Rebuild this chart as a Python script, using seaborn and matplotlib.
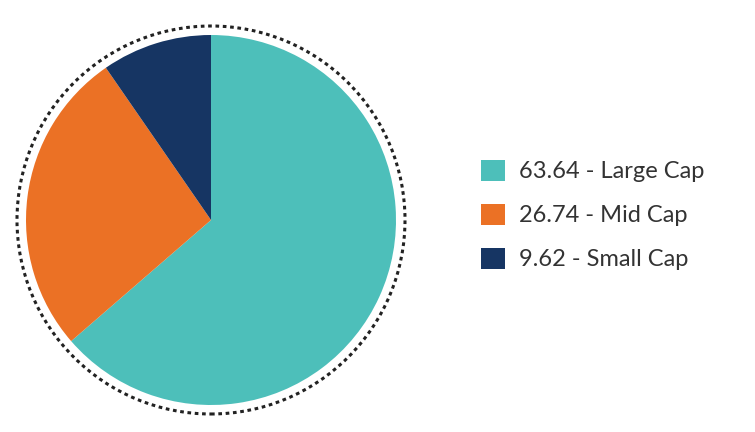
import matplotlib
matplotlib.use("Agg")
import matplotlib.pyplot as plt
import seaborn as sns
from matplotlib.patches import Circle

sns.set_theme(style="white")
plt.rcParams['font.family'] = ['Lato', 'DejaVu Sans']

labels = ["Large Cap", "Mid Cap", "Small Cap"]
values = [63.64, 26.74, 9.62]
colors = ["#4DBFBA", "#EB7125", "#163563"]

fig = plt.figure(figsize=(7.55, 4.32), dpi=100)
# axes in pixel units, centered on the pie
ax = fig.add_axes([(211 - 216) / 755, (432 - 220 - 216) / 432, 432 / 755, 432 / 432])
ax.set_xlim(-216, 216)
ax.set_ylim(-216, 216)
ax.set_aspect("equal")
ax.axis("off")

wedges, _ = ax.pie(values, colors=colors, startangle=90, counterclock=False,
                   radius=185, center=(0, 0), frame=True,
                   wedgeprops=dict(linewidth=0))
ax.set_xlim(-216, 216)
ax.set_ylim(-216, 216)
ax.axis("off")
ax.add_patch(Circle((0, 0), 194, fill=False, edgecolor="#222222",
                    linewidth=2.2, linestyle=(0, (1.2, 1.2))))

leg_labels = [f"{v:.2f} - {l}" for v, l in zip(values, labels)]
fig.legend(wedges, leg_labels, loc="center left",
           bbox_to_anchor=(460 / 755, 1 - 215 / 432), frameon=False,
           fontsize=17, labelcolor="#333333", handlelength=1.0,
           handleheight=1.0, handletextpad=0.6, labelspacing=0.9)

fig.savefig("out.png", dpi=100)
